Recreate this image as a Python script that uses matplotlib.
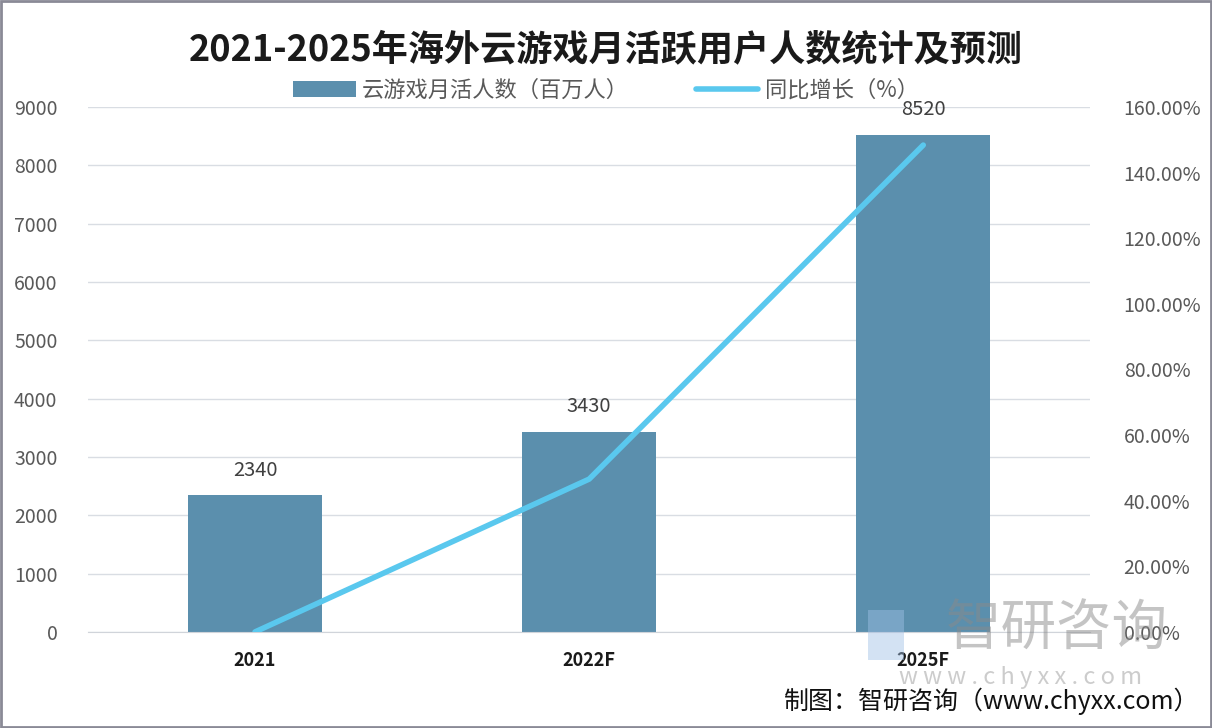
import matplotlib
matplotlib.use("Agg")
import matplotlib.pyplot as plt
from matplotlib.ticker import FuncFormatter

plt.rcParams['font.family'] = ['Noto Sans CJK SC', 'DejaVu Sans']

# data
years = ['2021', '2022F', '2025F']
users = [2340, 3430, 8520]          # 云游戏月活人数（百万人）
growth = [0.0, 46.58, 148.40]       # 同比增长（%）

bar_color = '#5b8fad'
line_color = '#5ac8ee'
tick_color = '#595959'

fig = plt.figure(figsize=(12.12, 7.28), dpi=100)
ax = fig.add_axes([0.0726, 0.132, 0.827, 0.721])
ax2 = ax.twinx()

x = range(len(years))
ax.bar(x, users, width=0.4, color=bar_color, zorder=2, label='云游戏月活人数（百万人）')
for xi, v in zip(x, users):
    ax.text(xi, v + 250, str(v), ha='center', va='bottom', fontsize=14.5, color='#404040')

ax2.plot(x, growth, color=line_color, linewidth=4, solid_capstyle='round',
         zorder=3, label='同比增长（%）')

ax.set_xlim(-0.5, 2.5)
ax.set_ylim(0, 9000)
ax.set_yticks(range(0, 9001, 1000))
ax2.set_ylim(0, 160)
ax2.set_yticks(range(0, 161, 20))
ax2.yaxis.set_major_formatter(FuncFormatter(lambda v, p: f'{v:.2f}%'))

ax.set_xticks(list(x))
ax.set_xticklabels(years, fontsize=13, fontweight='bold', color='#1a1a1a')
ax.tick_params(axis='x', length=0, pad=14)
ax.tick_params(axis='y', length=0, labelsize=14, labelcolor=tick_color, pad=22)
ax2.tick_params(axis='y', length=0, labelsize=14, labelcolor=tick_color, pad=24)

ax.grid(axis='y', color='#d9dde3', linewidth=1, zorder=0)
ax.set_axisbelow(True)
for a in (ax, ax2):
    for s in a.spines.values():
        s.set_visible(False)
ax.spines['bottom'].set_visible(True)
ax.spines['bottom'].set_color('#d0d4da')

fig.text(0.5, 0.932, '2021-2025年海外云游戏月活跃用户人数统计及预测', ha='center', va='center',
         fontsize=26, fontweight='bold', color='#1a1a1a')

h1, l1 = ax.get_legend_handles_labels()
h2, l2 = ax2.get_legend_handles_labels()
fig.legend(h1 + h2, l1 + l2, loc='center', bbox_to_anchor=(0.5, 0.876), ncol=2, frameon=False,
           fontsize=16, labelcolor=tick_color, handlelength=2.8, handleheight=0.7,
           handletextpad=0.3, columnspacing=3.0)

# watermark
fig.patches.append(plt.Rectangle((868 / 1212, 1 - 660 / 728), 36 / 1212, 50 / 728,
                                 transform=fig.transFigure, facecolor='#9fc0e6',
                                 edgecolor='none', alpha=0.45))
fig.text(0.872, 0.134, '智研咨询', ha='center', va='center', fontsize=40,
         color='#8a8a8a', alpha=0.5)
fig.text(0.842, 0.07, 'w w w . c h y x x . c o m', ha='center', va='center', fontsize=17,
         color='#9a9a9a', alpha=0.5)

fig.text(0.99, 0.036, '制图：智研咨询（www.chyxx.com）', ha='right', va='center',
         fontsize=18, color='#111111')

# outer frame
fig.patches.append(plt.Rectangle((0.001, 0.002), 0.998, 0.996, transform=fig.transFigure,
                                 fill=False, edgecolor='#8a8a96', linewidth=2))

fig.savefig('out.png', dpi=100)
